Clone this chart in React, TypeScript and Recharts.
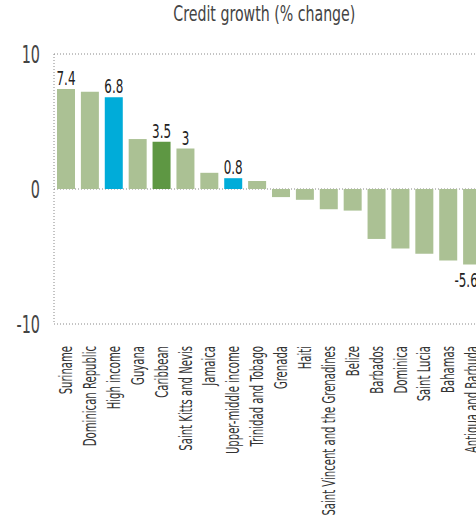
import { BarChart, Bar, XAxis, YAxis, CartesianGrid, Cell, LabelList } from 'recharts'

const countries = [
  'Suriname',
  'Dominican Republic',
  'High income',
  'Guyana',
  'Caribbean',
  'Saint Kitts and Nevis',
  'Jamaica',
  'Upper-middle income',
  'Trinidad and Tobago',
  'Grenada',
  'Haiti',
  'Saint Vincent and the Grenadines',
  'Belize',
  'Barbados',
  'Dominica',
  'Saint Lucia',
  'Bahamas',
  'Antigua and Barbuda',
]

const growth = [7.4, 7.2, 6.8, 3.7, 3.5, 3.0, 1.2, 0.8, 0.6, -0.6, -0.8, -1.5, -1.6, -3.7, -4.4, -4.8, -5.3, -5.6]

// which bars get a value label
const labelled = ['Suriname', 'High income', 'Caribbean', 'Saint Kitts and Nevis', 'Upper-middle income', 'Antigua and Barbuda']

const groups: Record<string, string> = {
  'High income': 'income',
  'Upper-middle income': 'income',
  Caribbean: 'region',
}

const yTicks = [-10, 0, 10]

const COLORS: Record<string, string> = {
  country: '#abc194',
  income: '#00acd9',
  region: '#5e9743',
}

// no condensed font available, so squeeze DejaVu Sans Condensed horizontally
const FONT = "'DejaVu Sans Condensed', 'DejaVu Sans', sans-serif"

const data = countries.map((name, i) => ({
  name,
  value: growth[i],
  label: labelled.includes(name) ? String(growth[i]) : '',
  color: COLORS[groups[name] || 'country'],
}))

function CountryTick({ x, y, payload }: any) {
  return (
    <g transform={`translate(${x},${y + 14})`}>
      <text transform="rotate(-90) scale(0.66,1)" textAnchor="end" dy="0.36em"
        fontFamily={FONT} fontSize={17} fill="#333">
        {payload.value}
      </text>
    </g>
  )
}

function ValueTick({ x, y, payload }: any) {
  return (
    <text transform={`translate(${x},${y}) scale(0.64,1)`} textAnchor="end" dy="0.36em"
      fontFamily={FONT} fontSize={25} fill="#444">
      {payload.value}
    </text>
  )
}

function ValueLabel({ x, y, width, height, value }: any) {
  if (!value) return null
  const top = Math.min(y, y + height)
  const bottom = Math.max(y, y + height)
  const neg = Number(value) < 0
  const tx = x + width / 2 - (neg ? 6 : 0)
  const ty = neg ? bottom + 22 : top - 4
  return (
    <text transform={`translate(${tx},${ty}) scale(0.7,1)`} textAnchor="middle"
      fontFamily={FONT} fontSize={19} fill="#222">
      {value}
    </text>
  )
}

export default function App() {
  return (
    <div style={{ position: 'absolute', left: 0, top: 0, width: 476, height: 521, overflow: 'hidden', background: '#fff' }}>
      <div style={{ position: 'absolute', left: 0, top: 2, width: 528, textAlign: 'center', fontFamily: FONT,
        fontSize: 21, color: '#444' }}>
        <span style={{ display: 'inline-block', transform: 'scaleX(0.75)' }}>Credit growth (% change)</span>
      </div>
      <BarChart width={484} height={521} data={data} margin={{ top: 54, right: 0, left: 0, bottom: 0 }}>
        <CartesianGrid vertical={false} stroke="#888" strokeDasharray="1 2" />
        <XAxis dataKey="name" interval={0} height={197} tick={<CountryTick />} tickLine={false} axisLine={false} />
        <YAxis domain={[-10, 10]} ticks={yTicks} width={54} tickLine={false} tickMargin={8}
          axisLine={{ stroke: '#888', strokeDasharray: '1 2' }} tick={<ValueTick />} />
        <Bar dataKey="value" barSize={18} isAnimationActive={false}>
          {data.map((d, i) => (
            <Cell key={i} fill={d.color} />
          ))}
          <LabelList dataKey="label" content={<ValueLabel />} />
        </Bar>
      </BarChart>
    </div>
  )
}
